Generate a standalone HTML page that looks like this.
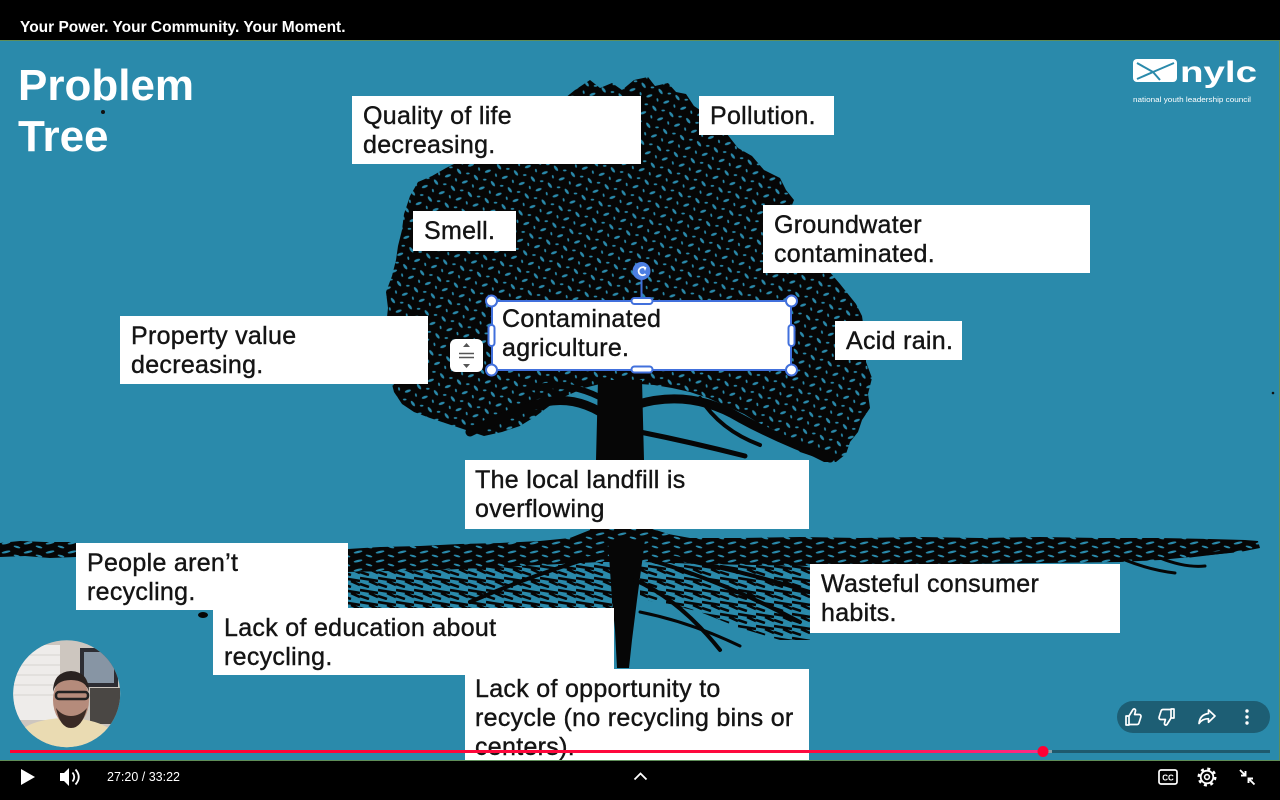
<!DOCTYPE html>
<html><head><meta charset="utf-8">
<style>
*{margin:0;padding:0;box-sizing:border-box}
html,body{width:1280px;height:800px;overflow:hidden;background:#000}
body{position:relative;font-family:"Liberation Sans",Arial,sans-serif}
#slide{position:absolute;left:0;top:40px;width:1280px;height:720px;background:#2a8aab}
.b{position:absolute;background:#fff;color:#141414;font-size:25px;line-height:29px;letter-spacing:0.3px;padding:6px 0 0 11px;white-space:nowrap;overflow:hidden;-webkit-text-stroke:0.4px #141414}
#title{position:absolute;left:18px;top:60px;color:#fff;font-weight:bold;font-size:44px;line-height:51px}
#top{position:absolute;left:20px;top:20px;color:#fff;font-weight:bold;font-size:15.5px;line-height:16px}
svg{position:absolute;left:0;top:0}
</style></head><body>
<div id="slide"></div>

<svg width="1280" height="800" viewBox="0 0 1280 800">
<defs>
<pattern id="leaf" width="18" height="18" patternUnits="userSpaceOnUse" patternTransform="rotate(20)">
<rect width="18" height="18" fill="#060606"/>
<ellipse cx="4" cy="4" rx="3.2" ry="1.3" transform="rotate(35 4 4)" fill="#2a8aab"/>
<ellipse cx="13" cy="12" rx="3.2" ry="1.3" transform="rotate(-40 13 12)" fill="#2a8aab"/>
<ellipse cx="13" cy="3" rx="1.8" ry="0.9" transform="rotate(-20 13 3)" fill="#2a8aab"/>
<ellipse cx="4" cy="13" rx="1.8" ry="0.9" transform="rotate(60 4 13)" fill="#2a8aab"/>
</pattern>
<pattern id="root" width="22" height="9" patternUnits="userSpaceOnUse">
<rect width="22" height="9" fill="#060606"/>
<ellipse cx="6" cy="3" rx="4.5" ry="1.2" transform="rotate(-12 6 3)" fill="#2a8aab"/>
<ellipse cx="17" cy="7" rx="3.5" ry="1" transform="rotate(15 17 7)" fill="#2a8aab"/>
</pattern>
<pattern id="root2" width="18" height="12" patternUnits="userSpaceOnUse">
<rect width="18" height="12" fill="#2a8aab"/>
<path d="M0 2 L18 5 M0 8 L9 11 M9 5 L18 9" stroke="#060606" stroke-width="2.6"/>
</pattern>
</defs>

<path fill="url(#leaf)" d="M590,80 L600,88 L612,83 L622,90 L634,80 L648,77 L655,86 L668,83 L676,92 L686,94 L694,106 L706,114 L714,126 L727,134 L738,148 L752,156 L764,170 L780,178 L786,190 L794,200 L790,210 L810,230 L818,250 L828,270 L840,284 L848,294 L856,304 L862,316 L864,330 L866,345 L866,362 L872,378 L868,394 L870,408 L862,420 L858,432 L850,442 L846,454 L836,462 L824,462 L812,456 L800,452 L788,440 L774,430 L760,424 L744,414 L726,406 L708,398 L690,392 L672,388 L654,385 L640,384 L600,384 L584,388 L566,396 L552,404 L536,416 L520,426 L502,432 L484,436 L466,430 L448,424 L430,418 L414,412 L402,404 L394,392 L390,376 L392,360 L388,344 L386,326 L388,308 L386,292 L392,276 L396,260 L398,246 L402,230 L404,214 L410,196 L418,182 L432,176 L446,168 L462,160 L480,150 L500,140 L520,128 L540,116 L560,102 L575,90 Z"/>
<g stroke="#060606" fill="none" stroke-linecap="round">
<path d="M612,420 Q580,395 545,402 Q510,412 470,432" stroke-width="9"/>
<path d="M605,400 Q570,380 530,388" stroke-width="6"/>
<path d="M635,405 Q690,388 740,418 Q780,440 830,458" stroke-width="9"/>
<path d="M640,432 Q690,442 745,456" stroke-width="5"/>
<path d="M700,398 Q720,430 760,445" stroke-width="4"/>
</g>
<path fill="#060606" d="M598,380 L642,380 L644,460 L648,528 L675,536 L700,542 L560,542 L590,530 L596,460 Z"/>

<path fill="url(#root)" d="M0,543 L20,541 L45,542 L76,542 L76,557 L50,558 L25,556 L0,557 Z"/>
<path fill="url(#root)" d="M348,549 L380,547 L420,546 L460,544 L500,543 L540,541 L570,538 L590,532 L605,528 L650,528 L668,534 L690,538 L740,538 L800,537 L860,538 L920,537 L980,538 L1040,537 L1100,538 L1160,538 L1210,539 L1245,540 L1258,541 L1260,548 L1240,552 L1200,556 L1160,560 L1120,562 L810,566 L760,566 L700,564 L640,562 L600,562 L560,566 L500,568 L440,570 L348,572 Z"/>
<path fill="url(#root2)" d="M348,572 L440,570 L520,566 L600,562 L614,562 L614,608 L348,608 Z"/>
<path fill="url(#root2)" d="M640,562 L700,564 L810,566 L810,640 L780,640 L740,628 L700,612 L660,602 L640,600 Z"/>
<path fill="#060606" d="M608,540 L645,540 L637,600 L632,640 L629,668 L617,668 L615,630 L612,600 Z"/>
<g stroke="#060606" fill="none" stroke-linecap="round">
<path d="M635,580 Q680,600 720,650" stroke-width="4"/>
<path d="M640,612 Q690,622 740,646" stroke-width="3"/>
<path d="M650,560 Q720,580 800,622" stroke-width="4"/>
<path d="M660,555 Q740,570 810,592" stroke-width="4"/>
<path d="M600,555 Q540,572 470,602" stroke-width="4"/>
<path d="M1125,560 Q1150,570 1175,573" stroke-width="3"/>
<path d="M1160,558 Q1185,568 1205,566" stroke-width="3"/>
<path d="M1190,556 L1232,551" stroke-width="3"/>
</g>
<ellipse cx="203" cy="615" rx="5" ry="3" fill="#060606"/>
<circle cx="103" cy="112" r="2" fill="#111"/>
<circle cx="1273" cy="393" r="1.3" fill="#111"/>

<rect x="1133" y="59" width="44" height="23" rx="4" fill="#fff"/>
<path d="M1137,63 L1153,72 L1137,79 M1153,72 L1174,63 M1153,72 L1160,80" stroke="#2a8aab" stroke-width="2" fill="none"/>
<text x="1180" y="82" fill="#fff" font-family="Liberation Sans, sans-serif" font-weight="bold" font-size="30" textLength="77" lengthAdjust="spacingAndGlyphs">nylc</text>
<text x="1133" y="102" fill="#fff" font-family="Liberation Sans, sans-serif" font-size="7" textLength="118" lengthAdjust="spacingAndGlyphs">national youth leadership council</text>
</svg>

<div id="top">Your Power. Your Community. Your Moment.</div>
<div id="title">Problem<br>Tree</div>

<div class="b" style="left:352px;top:96px;width:289px;height:68px">Quality of life<br>decreasing.</div>
<div class="b" style="left:699px;top:96px;width:135px;height:39px">Pollution.</div>
<div class="b" style="left:413px;top:211px;width:103px;height:40px">Smell.</div>
<div class="b" style="left:763px;top:205px;width:327px;height:68px">Groundwater<br>contaminated.</div>
<div class="b" style="left:491px;top:300px;width:301px;height:71px;border:2px solid #4170dc;padding:3px 0 0 9px">Contaminated<br>agriculture.</div>
<div class="b" style="left:835px;top:321px;width:127px;height:39px">Acid rain.</div>
<div class="b" style="left:120px;top:316px;width:308px;height:68px">Property value<br>decreasing.</div>
<div class="b" style="left:465px;top:460px;width:344px;height:69px;padding-left:10px">The local landfill is<br>overflowing</div>
<div class="b" style="left:76px;top:543px;width:272px;height:67px">People aren’t<br>recycling.</div>
<div class="b" style="left:213px;top:608px;width:401px;height:67px">Lack of education about<br>recycling.</div>
<div class="b" style="left:810px;top:564px;width:310px;height:69px">Wasteful consumer<br>habits.</div>
<div class="b" style="left:465px;top:669px;width:344px;height:100px;padding-left:10px">Lack of opportunity to<br>recycle (no recycling bins or<br>centers).</div>

<svg width="1280" height="800" viewBox="0 0 1280 800">
<defs>
<clipPath id="cam"><circle cx="66.7" cy="693.7" r="53.5"/></clipPath>
<linearGradient id="prog" x1="10" y1="0" x2="1043" y2="0" gradientUnits="userSpaceOnUse">
<stop offset="0" stop-color="#ff0033"/><stop offset="0.8" stop-color="#ff0a40"/><stop offset="1" stop-color="#ff2a86"/>
</linearGradient>
</defs>

<line x1="641.5" y1="280" x2="641.5" y2="300" stroke="#4170dc" stroke-width="2"/>
<circle cx="641.5" cy="271" r="9" fill="#4d7fe3"/>
<path d="M645,268 A4,4 0 1 0 645.5,274" stroke="#fff" stroke-width="1.8" fill="none"/>
<path d="M643,266 L646.5,267.5 L645,271 Z" fill="#fff"/>
<g fill="#fff" stroke="#4170dc" stroke-width="2">
<circle cx="491.5" cy="301" r="5.5"/><circle cx="791.5" cy="301" r="5.5"/>
<circle cx="491.5" cy="370" r="5.5"/><circle cx="791.5" cy="370" r="5.5"/>
<rect x="631.5" y="298" width="21" height="6" rx="3"/>
<rect x="631.5" y="366.5" width="21" height="6" rx="3"/>
<rect x="488.5" y="325" width="6" height="21" rx="3"/>
<rect x="788.5" y="325" width="6" height="21" rx="3"/>
</g>
<rect x="450" y="339" width="33" height="33" rx="6" fill="#fff"/>
<g fill="#555" stroke="#555">
<path d="M463,347 L466.5,343 L470,347 Z" stroke="none"/>
<path d="M463,364 L466.5,368 L470,364 Z" stroke="none"/>
<line x1="459" y1="353.5" x2="474" y2="353.5" stroke-width="1.5"/>
<line x1="459" y1="357.5" x2="474" y2="357.5" stroke-width="1.5"/>
</g>

<g clip-path="url(#cam)">
<rect x="10" y="638" width="115" height="115" fill="#cdc6bf"/>
<rect x="10" y="645" width="50" height="75" fill="#eeecea"/>
<g stroke="#d6d3d0" stroke-width="1"><line x1="10" y1="655" x2="60" y2="655"/><line x1="10" y1="665" x2="60" y2="665"/><line x1="10" y1="675" x2="60" y2="675"/><line x1="10" y1="685" x2="60" y2="685"/><line x1="10" y1="695" x2="60" y2="695"/></g>
<rect x="80" y="648" width="38" height="39" fill="#2d2d33"/>
<rect x="84" y="652" width="30" height="31" fill="#8795a4"/>
<rect x="90" y="688" width="30" height="36" fill="#4a4744"/>
<ellipse cx="66" cy="742" rx="52" ry="24" fill="#eadbb2"/>
<ellipse cx="71" cy="700" rx="18" ry="26" fill="#b58b7b"/>
<path d="M53,692 Q53,672 71,671 Q89,672 89,692 Q86,680 71,680 Q56,680 53,692 Z" fill="#2a2220"/>
<rect x="56" y="692" width="32" height="7" rx="3" fill="none" stroke="#222" stroke-width="2.5"/>
<path d="M56,708 Q60,728 71,728 Q82,728 87,708 Q80,716 71,716 Q62,716 56,708 Z" fill="#3a2a25"/>
</g>

<rect x="1117" y="701" width="153" height="32" rx="16" fill="#1d5e74"/>
<g stroke="#fff" stroke-width="1.7" fill="none" stroke-linejoin="round">
<path d="M1126,716 v9 h3 v-9 z M1129,716 l4,-6.5 c1.2,-1.2 2.8,-0.3 2.5,1.4 l-0.9,3.6 h4.6 c1.3,0 2.1,1.2 1.7,2.4 l-2,6.2 c-0.3,0.9 -1.1,1.4 -2,1.4 h-7.9"/>
<path transform="translate(34,0) rotate(180 1133 717)" d="M1126,716 v9 h3 v-9 z M1129,716 l4,-6.5 c1.2,-1.2 2.8,-0.3 2.5,1.4 l-0.9,3.6 h4.6 c1.3,0 2.1,1.2 1.7,2.4 l-2,6.2 c-0.3,0.9 -1.1,1.4 -2,1.4 h-7.9"/>
<path d="M1215,716 l-6.5,-6 v3.5 c-6.5,0.8 -9,5 -9.5,10 c2.3,-3.5 5.5,-4.8 9.5,-4.8 v3.6 z"/>
</g>
<g fill="#fff"><circle cx="1247" cy="711" r="1.7"/><circle cx="1247" cy="717" r="1.7"/><circle cx="1247" cy="723" r="1.7"/></g>

<rect x="1043" y="750" width="227" height="3" fill="#1f5a6e"/>
<rect x="1043" y="750" width="9" height="3" fill="#8aa0a8"/>
<rect x="10" y="750" width="1033" height="3" fill="url(#prog)"/>
<circle cx="1043" cy="751.5" r="5.5" fill="#ff0033"/>

<rect x="0" y="40" width="1280" height="1" fill="#5e8d58"/>
<rect x="0" y="760" width="1280" height="1" fill="#5e8d58"/>
<rect x="1279" y="40" width="1" height="720" fill="#5e8d58"/>

<rect x="0" y="761" width="1280" height="39" fill="#000"/>
<polygon points="21,769 35,777 21,785" fill="#fff"/>
<path d="M60,773 h4 l5,-5 v18 l-5,-5 h-4 z" fill="#fff"/>
<path d="M72.5,772.5 q3.5,4.5 0,9 M75.5,769.5 q6.5,7.5 0,15" stroke="#fff" stroke-width="1.8" fill="none"/>
<text x="107" y="781" fill="#fff" font-family="Liberation Sans, sans-serif" font-size="12.5">27:20 / 33:22</text>
<path d="M634.5,779.5 L640.5,773.5 L646.5,779.5" stroke="#fff" stroke-width="1.8" fill="none"/>
<rect x="1159" y="770" width="18" height="14" rx="2" fill="none" stroke="#fff" stroke-width="1.7"/>
<text x="1168" y="780.5" fill="#fff" font-family="Liberation Sans, sans-serif" font-weight="bold" font-size="8" text-anchor="middle">CC</text>
<circle cx="1207" cy="777" r="6.3" fill="none" stroke="#fff" stroke-width="1.8"/>
<circle cx="1207" cy="777" r="8.3" fill="none" stroke="#fff" stroke-width="2.4" stroke-dasharray="3 3.52"/>
<circle cx="1207" cy="777" r="2.4" fill="none" stroke="#fff" stroke-width="1.6"/>
<path d="M1240,770 L1245.5,775.5 M1245.5,771 V775.5 H1241 M1254.5,784.5 L1248.5,778.5 M1248.5,783 V778.5 H1253" stroke="#fff" stroke-width="1.9" fill="none"/>
</svg>
</body></html>
